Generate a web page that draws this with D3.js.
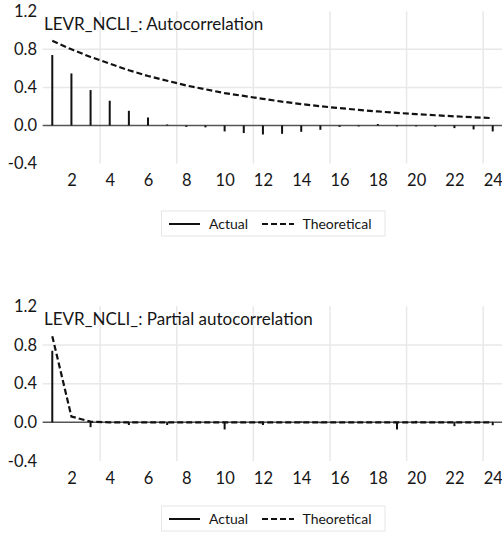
<!DOCTYPE html>
<html><head><meta charset="utf-8">
<script src="https://cdn.jsdelivr.net/npm/d3@7"></script>
<style>
html,body{margin:0;padding:0;background:#fff;}
svg{display:block;font-family:Lato, "Open Sans", sans-serif;}
</style></head>
<body>
<svg id="chart" width="502" height="534"></svg>
<script>
// ---- data ----
const lags = d3.range(1, 25);
const xTickLabels = [2,4,6,8,10,12,14,16,18,20,22,24];
const yTickLabels = [-0.4, 0.0, 0.4, 0.8, 1.2];
const gridLags = [3.5, 7.5, 11.5, 15.5, 19.5, 23.5];
const acfActual = [0.74, 0.547, 0.372, 0.26, 0.154, 0.084, 0.01, -0.015, -0.02, -0.063, -0.08, -0.095,
                   -0.088, -0.067, -0.046, -0.015, -0.01, 0.015, -0.01, -0.01, -0.013, -0.028, -0.042, -0.063];
const acfTheoretical = [0.89, 0.80, 0.72, 0.65, 0.58, 0.52, 0.47, 0.42, 0.38, 0.34, 0.31, 0.28,
                        0.25, 0.225, 0.202, 0.182, 0.164, 0.147, 0.132, 0.119, 0.107, 0.096, 0.086, 0.077];
const pacfActual = [0.74, 0.0, -0.05, 0.0, -0.028, 0.0, -0.028, 0.0, 0.005, -0.074, 0.0, -0.028,
                    0.0, 0.01, -0.01, 0.0, 0.0, 0.0, -0.074, 0.015, 0.0, -0.04, 0.0, -0.03];
const pacfTheoretical = [0.89, 0.06, 0.007, 0, 0, 0, 0, 0, 0, 0, 0, 0,
                         0, 0, 0, 0, 0, 0, 0, 0, 0, 0, 0, 0];
const titles = ["LEVR_NCLI_: Autocorrelation", "LEVR_NCLI_: Partial autocorrelation"];
const legendLabels = ["Actual", "Theoretical"];

const panels = [
  {title: titles[0], actual: acfActual, theo: acfTheoretical, yTop: 11.3, yBot: 163.5, legendY: 211},
  {title: titles[1], actual: pacfActual, theo: pacfTheoretical, yTop: 306.3, yBot: 461, legendY: 506}
];

const svg = d3.select("#chart");
const x = d3.scaleLinear().domain([0.5, 24.5]).range([42.7, 502.3]);
const textColor = "#161616";

panels.forEach(p => {
  const y = d3.scaleLinear().domain([-0.4, 1.2]).range([p.yBot, p.yTop]);
  const g = svg.append("g");

  // horizontal gridlines
  g.selectAll(".hg").data([0.4, 0.8]).enter().append("line")
    .attr("x1", x(0.5)).attr("x2", x(24.5))
    .attr("y1", d => y(d)).attr("y2", d => y(d))
    .attr("stroke", "#e8e8e8").attr("stroke-width", 1.5);
  // vertical gridlines
  g.selectAll(".vg").data(gridLags).enter().append("line")
    .attr("x1", d => x(d)).attr("x2", d => x(d))
    .attr("y1", y(1.2)).attr("y2", y(-0.4))
    .attr("stroke", "#e8e8e8").attr("stroke-width", 1.5);

  // y axis labels
  const yAxis = d3.axisLeft(y).tickValues(yTickLabels).tickSize(0).tickPadding(0)
    .tickFormat(d => d.toFixed(1));
  const ya = g.append("g").attr("transform", "translate(37,0)").call(yAxis);
  ya.select(".domain").remove();
  ya.selectAll("text").attr("font-size", 16.5).attr("fill", textColor)
    .attr("font-family", "Lato, 'Open Sans', sans-serif");

  // x axis labels
  const xAxis = d3.axisBottom(x).tickValues(xTickLabels).tickSize(0).tickPadding(0);
  const xa = g.append("g").attr("transform", `translate(0,${p.yBot + 11})`).call(xAxis);
  xa.select(".domain").remove();
  xa.selectAll("text").attr("font-size", 16.5).attr("fill", textColor)
    .attr("font-family", "Lato, 'Open Sans', sans-serif");

  // zero line
  g.append("line").attr("x1", x(0.5)).attr("x2", x(24.5))
    .attr("y1", y(0)).attr("y2", y(0))
    .attr("stroke", "#555").attr("stroke-width", 1.5);

  // actual bars
  g.selectAll(".bar").data(lags).enter().append("line")
    .attr("x1", d => x(d)).attr("x2", d => x(d))
    .attr("y1", y(0)).attr("y2", d => y(p.actual[d - 1]))
    .attr("stroke", "#111").attr("stroke-width", 2);

  // theoretical dashed line
  const line = d3.line().x(d => x(d)).y(d => y(p.theo[d - 1]));
  g.append("path").datum(lags).attr("d", line)
    .attr("fill", "none").attr("stroke", "#111").attr("stroke-width", 2.2)
    .attr("stroke-dasharray", "6,3");

  // title
  g.append("text").attr("x", 44).attr("y", p.yTop + 18.5)
    .attr("font-size", 17).attr("fill", textColor).text(p.title);

  // legend
  const lg = g.append("g").attr("transform", `translate(0,${p.legendY})`);
  lg.append("rect").attr("x", 161.5).attr("y", 0).attr("width", 223.5).attr("height", 25)
    .attr("fill", "#fff").attr("stroke", "#e6e6e6").attr("stroke-width", 1);
  lg.append("line").attr("x1", 169).attr("x2", 200).attr("y1", 13).attr("y2", 13)
    .attr("stroke", "#111").attr("stroke-width", 2);
  lg.append("text").attr("x", 209).attr("y", 17.5).attr("font-size", 14).attr("fill", textColor)
    .text(legendLabels[0]);
  lg.append("line").attr("x1", 262).attr("x2", 294).attr("y1", 13).attr("y2", 13)
    .attr("stroke", "#111").attr("stroke-width", 2).attr("stroke-dasharray", "6,3");
  lg.append("text").attr("x", 302.5).attr("y", 17.5).attr("font-size", 14).attr("fill", textColor)
    .text(legendLabels[1]);
});
</script>
</body></html>
